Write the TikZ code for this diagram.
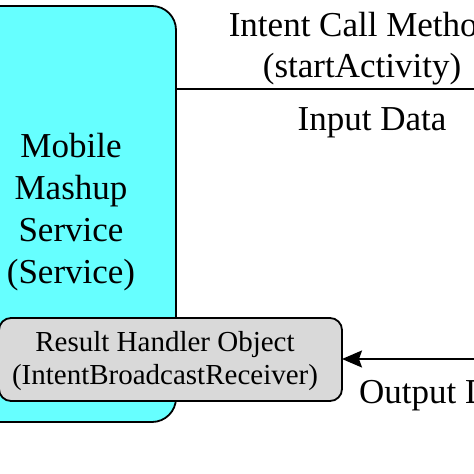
\documentclass[tikz,border=0pt]{standalone}
\usepackage{fontspec}
\setmainfont{Liberation Serif}
\usetikzlibrary{arrows.meta}
\definecolor{cyanfill}{HTML}{66FFFF}
\definecolor{grayfill}{HTML}{D9D9D9}
\begin{document}
\begin{tikzpicture}[x=1pt,y=-1pt,
  boxshape/.style={draw=black, line width=1.8pt, inner sep=0pt, outer sep=0pt},
  bigtext/.style={font=\fontsize{35}{42}\selectfont, inner sep=0pt, align=center},
  smalltext/.style={font=\fontsize{29}{33}\selectfont, inner sep=0pt, align=center},
  conn/.style={draw=black, line width=1.8pt}]
\useasboundingbox (0,0) rectangle (474,474);
\fill[white] (0,0) rectangle (474,474);
\node[boxshape, fill=cyanfill, minimum width=216pt, minimum height=416pt, rounded corners=24pt] (mms) at (68,214) {};
\node[bigtext] (mmst) at (71,212) {Mobile\\Mashup\\Service\\(Service)};
\node[boxshape, fill=grayfill, minimum width=343pt, minimum height=83pt, rounded corners=12pt] (rh) at (170.5,359.5) {};
\node[smalltext] (rht) at (165,361.5) {Result Handler Object\\(IntentBroadcastReceiver)};
\coordinate (r1) at (474,89);
\coordinate (r2) at (474,359);
\draw[conn] (mms.east |- r1) -- (r1);
\draw[conn, -{Stealth[length=20pt,width=17pt,inset=3pt]}] (r2) -- (rh.east |- r2);
\node[bigtext, anchor=base] (t1) at (362,36) {Intent Call Method};
\node[bigtext, anchor=base] (t2) at (362,77) {(startActivity)};
\node[bigtext, anchor=base] (t3) at (372,130) {Input Data};
\node[bigtext, anchor=base west] (t4) at (359,403) {Output Data};
\end{tikzpicture}
\end{document}
